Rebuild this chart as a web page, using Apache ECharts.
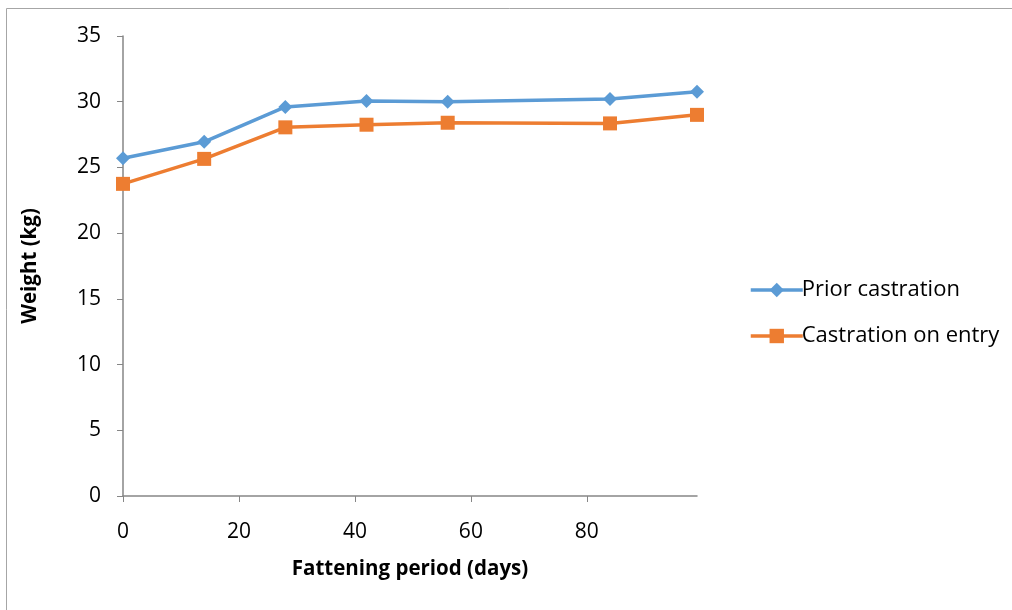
<!DOCTYPE html>
<html>
<head>
<meta charset="utf-8">
<script src="https://cdn.jsdelivr.net/npm/echarts@6/dist/echarts.min.js"></script>
<style>
  html, body { margin: 0; padding: 0; background: #fff; }
  #chart { width: 1012px; height: 610px; }
</style>
</head>
<body>
<div id="chart"></div>
<script>
// Fattening period (days) at each weighing
const days = [0, 14, 28, 42, 56, 84, 99];
// Mean weight (kg) per group
const priorCastration = [25.7, 26.95, 29.6, 30.05, 30.0, 30.2, 30.75];
const castrationOnEntry = [23.75, 25.65, 28.05, 28.25, 28.4, 28.35, 29.0];
const seriesNames = ['Prior castration', 'Castration on entry'];

const pairs = (xs, ys) => xs.map((x, i) => [x, ys[i]]);

const chart = echarts.init(document.getElementById('chart'), null, { renderer: 'canvas' });
const font = '"Open Sans", "Noto Sans", sans-serif';
const axisGray = '#868686';

chart.setOption({
  animation: false,
  backgroundColor: '#ffffff',
  graphic: [
    { type: 'line', shape: { x1: 6.5, y1: 8.5, x2: 1012, y2: 8.5 }, style: { stroke: '#a6a6a6', lineWidth: 1 } },
    { type: 'line', shape: { x1: 6.5, y1: 8.5, x2: 6.5, y2: 610 }, style: { stroke: '#a6a6a6', lineWidth: 1 } }
  ],
  grid: { left: 123, top: 36, right: 315, bottom: 114, containLabel: false },
  legend: {
    orient: 'vertical',
    left: 749,
    top: 279,
    padding: 0,
    itemWidth: 52,
    itemHeight: 18,
    itemGap: 24,
    lineStyle: { width: 3.5 },
    textStyle: { fontFamily: font, fontSize: 22, color: '#000', padding: [0, 0, 0, -6] },
    data: seriesNames
  },
  xAxis: {
    type: 'value',
    min: 0,
    max: 99,
    interval: 20,
    name: 'Fattening period (days)',
    nameLocation: 'middle',
    nameGap: 63,
    nameTextStyle: { fontFamily: font, fontSize: 20.5, fontWeight: 'bold', color: '#000' },
    axisLine: { show: true, lineStyle: { color: axisGray, width: 1.5 } },
    axisTick: { show: true, length: 6, lineStyle: { color: axisGray } },
    axisLabel: { fontFamily: font, fontSize: 21, color: '#000', margin: 26, showMaxLabel: false },
    splitLine: { show: false }
  },
  yAxis: {
    type: 'value',
    min: 0,
    max: 35,
    interval: 5,
    name: 'Weight (kg)',
    nameLocation: 'middle',
    nameGap: 82,
    nameTextStyle: { fontFamily: font, fontSize: 20.5, fontWeight: 'bold', color: '#000' },
    axisLine: { show: true, lineStyle: { color: axisGray, width: 1.5 } },
    axisTick: { show: true, length: 6, lineStyle: { color: axisGray } },
    axisLabel: { fontFamily: font, fontSize: 21, color: '#000', margin: 22 },
    splitLine: { show: false }
  },
  series: [
    {
      name: seriesNames[0],
      type: 'line',
      data: pairs(days, priorCastration),
      symbol: 'diamond',
      symbolSize: 14,
      lineStyle: { width: 3.5, color: '#5B9BD5' },
      itemStyle: { color: '#5B9BD5' },
      z: 3
    },
    {
      name: seriesNames[1],
      type: 'line',
      data: pairs(days, castrationOnEntry),
      symbol: 'rect',
      symbolSize: 14,
      lineStyle: { width: 3.5, color: '#ED7D31' },
      itemStyle: { color: '#ED7D31' },
      z: 2
    }
  ]
});
</script>
</body>
</html>
